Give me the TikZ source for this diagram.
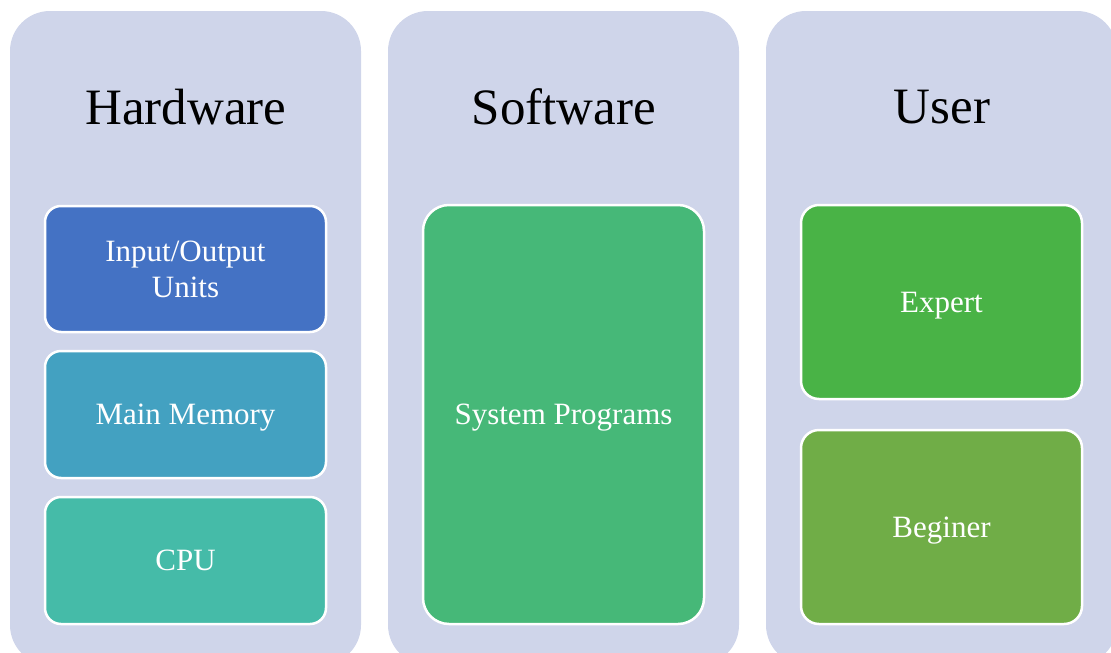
\documentclass[tikz,border=0pt]{standalone}
\usepackage{fontspec}
\setmainfont{Liberation Serif}
\definecolor{lav}{HTML}{CFD5EA}
\definecolor{cio}{HTML}{4472C4}
\definecolor{cmm}{HTML}{43A1C1}
\definecolor{ccpu}{HTML}{45BBA8}
\definecolor{csp}{HTML}{46B878}
\definecolor{cex}{HTML}{49B346}
\definecolor{cbg}{HTML}{70AD47}
\begin{document}
\begin{tikzpicture}[x=1pt,y=-1pt,
  column/.style={fill=lav, draw=none, rounded corners=40pt},
  title/.style={font=\fontsize{51}{55}\selectfont, text=black},
  inner/.style={draw=white, line width=2.5pt, rounded corners=16pt, text=white, align=center,
     font=\fontsize{31}{36}\selectfont, inner sep=0pt},
  oneline/.style={text height=25pt, text depth=5pt},
]
\useasboundingbox (0,0) rectangle (1111,653);
\begin{scope}
\clip (0,0) rectangle (1111,653);
\fill[column] (10,11) rectangle (361,665);
\fill[column] (388,11) rectangle (739,665);
\fill[column] (766,11) rectangle (1117,665);
\end{scope}
\node[title] (hw) at (186,107) {Hardware};
\node[title] (sw) at (564,107) {Software};
\node[title] (us) at (942,107) {User};

\node[inner, fill=cio, minimum width=281pt, minimum height=126pt] (io) at (185.5,269) {Input/Output\\Units};
\node[inner, oneline, fill=cmm, minimum width=281pt, minimum height=127pt] (mm) at (185.5,414.5) {Main Memory};
\node[inner, oneline, fill=ccpu, minimum width=281pt, minimum height=127pt] (cpu) at (185.5,560.5) {CPU};
\node[inner, oneline, fill=csp, minimum width=281pt, minimum height=419pt, rounded corners=26pt] (sp) at (563.5,414.5) {System Programs};
\node[inner, oneline, fill=cex, minimum width=281pt, minimum height=194pt, rounded corners=18pt] (ex) at (941.5,302) {Expert};
\node[inner, oneline, fill=cbg, minimum width=281pt, minimum height=194pt, rounded corners=18pt] (bg) at (941.5,527) {Beginer};
\end{tikzpicture}
\end{document}
